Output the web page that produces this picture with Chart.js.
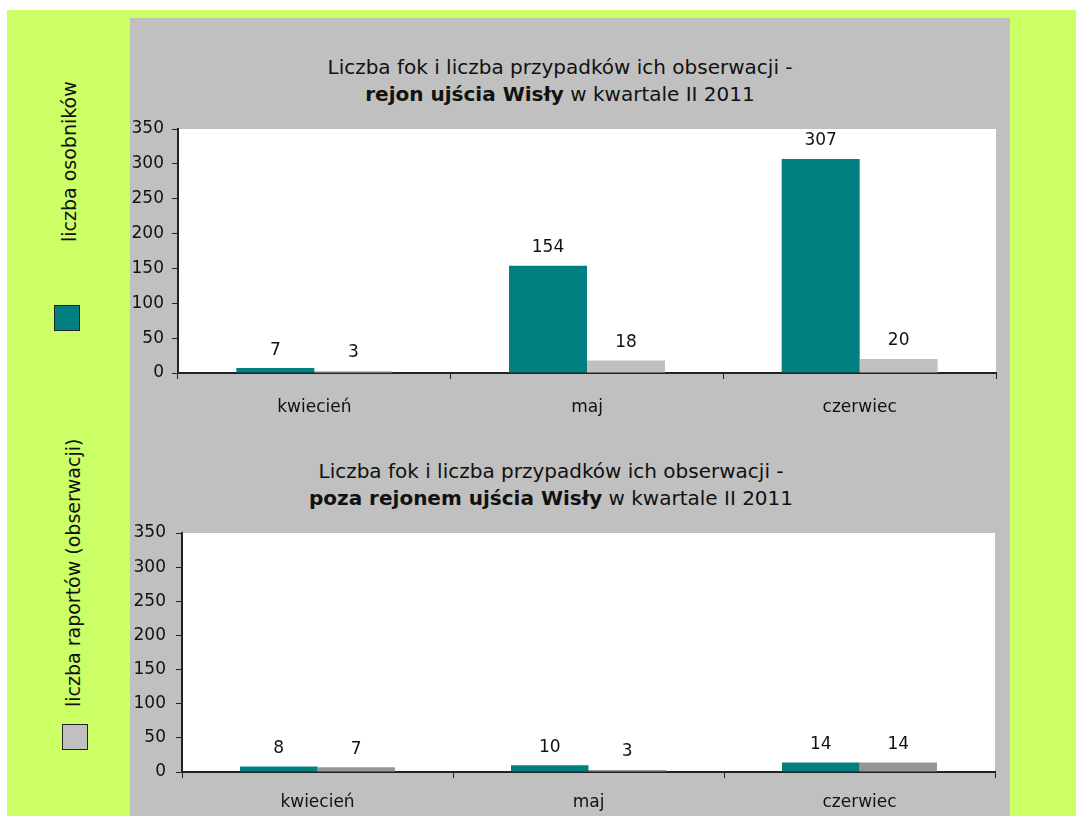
<!DOCTYPE html>
<html>
<head>
<meta charset="utf-8">
<script src="https://cdn.jsdelivr.net/npm/chart.js@4"></script>
<style>
  html, body { margin:0; padding:0; background:#ffffff; }
  body { width:1076px; height:816px; position:relative; overflow:hidden; font-family:"DejaVu Sans", sans-serif; }
  #green { position:absolute; left:7px; top:10px; width:1069px; height:806px; background:#ccff66; }
  #panel { position:absolute; left:130px; top:18px; width:880px; height:798px; background:#c0c0c0; }
  canvas { position:absolute; left:130px; }
  #c1 { top:18px; }
  #c2 { top:430px; }
  .title { position:absolute; font-size:20px; color:#111; text-align:center; line-height:27px; white-space:nowrap; }
  .legtext { position:absolute; font-size:19px; line-height:22px; color:#111; white-space:nowrap; transform-origin:0 0; transform:rotate(-90deg); }
  .legbox { position:absolute; width:24px; height:24px; border:1px solid #222; }
</style>
</head>
<body>
<div id="green"></div>
<div id="panel"></div>
<div class="title" id="t1" style="left:260px; top:54px; width:600px;">Liczba fok i liczba przypadków ich obserwacji -<br><b>rejon ujścia Wisły</b> w kwartale II 2011</div>
<div class="title" id="t2" style="left:251px; top:458px; width:600px;">Liczba fok i liczba przypadków ich obserwacji -<br><b>poza rejonem ujścia Wisły</b> w kwartale II 2011</div>
<div class="legtext" id="l1" style="left:58px; top:242px;"></div>
<div class="legbox" id="b1" style="left:54px; top:305px;"></div>
<div class="legtext" id="l2" style="left:62px; top:707px;"></div>
<div class="legbox" id="b2" style="left:62px; top:724px;"></div>
<canvas id="c1" width="880" height="412"></canvas>
<canvas id="c2" width="880" height="386"></canvas>
<script>
// ---- data ----
const categories = ['kwiecień', 'maj', 'czerwiec'];
const seriesNames = ['liczba osobników', 'liczba raportów (obserwacji)'];
const osobnikiWisla = [7, 154, 307];
const raportyWisla = [3, 18, 20];
const osobnikiPoza = [8, 10, 14];
const raportyPoza = [7, 3, 14];
const yMin = 0, yMax = 350, yStep = 50;

const TEAL = '#008080';
const GRAY_LIGHT = '#c0c0c0';
const GRAY_DARK = '#969696';

document.getElementById('l1').textContent = seriesNames[0];
document.getElementById('l2').textContent = seriesNames[1];
document.getElementById('b1').style.background = TEAL;
document.getElementById('b2').style.background = GRAY_LIGHT;

const FONT = { family: '"DejaVu Sans", sans-serif', size: 17 };

const plotBg = {
  id: 'plotBg',
  beforeDraw(chart) {
    const { ctx, chartArea: a } = chart;
    ctx.save();
    ctx.fillStyle = '#ffffff';
    ctx.fillRect(a.left, a.top, a.right - a.left, a.bottom - a.top);
    ctx.restore();
  }
};

const valueLabels = {
  id: 'valueLabels',
  afterDatasetsDraw(chart) {
    const { ctx } = chart;
    ctx.save();
    ctx.font = '17px "DejaVu Sans", sans-serif';
    ctx.fillStyle = '#111';
    ctx.textAlign = 'center';
    ctx.textBaseline = 'middle';
    chart.data.datasets.forEach((ds, i) => {
      chart.getDatasetMeta(i).data.forEach((bar, j) => {
        ctx.fillText(String(ds.data[j]), bar.x, bar.y - 18);
      });
    });
    ctx.restore();
  }
};

function makeChart(id, d1, d2, c2, cfg) {
  return new Chart(document.getElementById(id), {
    type: 'bar',
    data: {
      labels: categories,
      datasets: [
        { label: seriesNames[0], data: d1, backgroundColor: TEAL, borderWidth: 0 },
        { label: seriesNames[1], data: d2, backgroundColor: c2, borderWidth: 0 }
      ]
    },
    options: {
      responsive: false,
      animation: false,
      devicePixelRatio: 1,
      layout: { padding: { left: 0, right: cfg.padRight, top: cfg.padTop, bottom: 0 } },
      plugins: { legend: { display: false }, title: { display: false }, tooltip: { enabled: false } },
      datasets: { bar: { categoryPercentage: 0.572, barPercentage: 1.0 } },
      scales: {
        x: {
          grid: { display: true, drawOnChartArea: false, drawTicks: true, tickLength: 6, color: '#222', offset: true },
          border: { display: true, color: '#222', width: 2 },
          ticks: { font: FONT, color: '#111', padding: cfg.xPad, maxRotation: 0 },
          afterFit(s) { s.height = cfg.xHeight; }
        },
        y: {
          min: yMin, max: yMax,
          grid: { display: true, drawOnChartArea: false, drawTicks: true, tickLength: 6, color: '#222' },
          border: { display: true, color: '#222', width: 2 },
          ticks: { stepSize: yStep, font: FONT, color: '#111', padding: cfg.yPad },
          afterFit(s) { s.width = cfg.yWidth; }
        }
      }
    },
    plugins: [plotBg, valueLabels]
  });
}

makeChart('c1', osobnikiWisla, raportyWisla, GRAY_LIGHT,
  { padRight: 14, padTop: 111, xHeight: 57, xPad: 18, yWidth: 48, yPad: 8 });
makeChart('c2', osobnikiPoza, raportyPoza, GRAY_DARK,
  { padRight: 15, padTop: 103, xHeight: 44, xPad: 14, yWidth: 52, yPad: 10 });
</script>
</body>
</html>
